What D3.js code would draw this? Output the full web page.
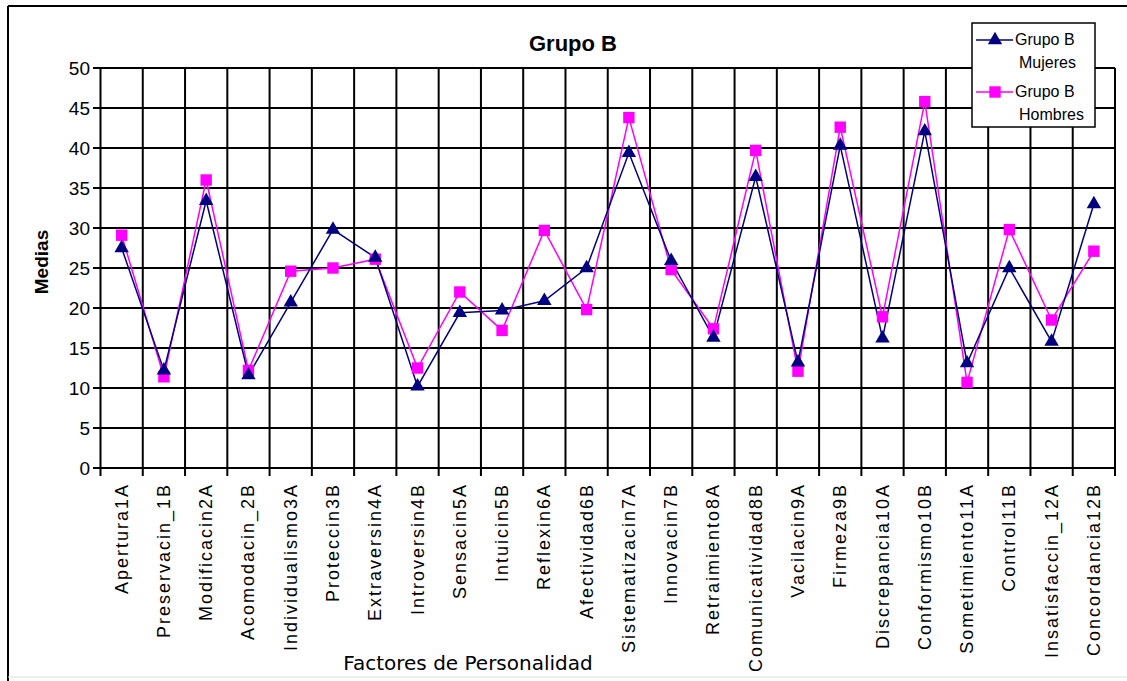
<!DOCTYPE html>
<meta charset="utf-8">
<style>
body { margin: 0; background: #fff; }
text { font-family: "Liberation Sans", Arial, sans-serif; fill: #000; }
.grid line { stroke: #000; stroke-width: 2px; }
</style>
<script src="https://d3js.org/d3.v7.min.js"></script>
<div id="chart"></div>
<script>
// factor labels, as printed in the original (accents lost)
var factores = ["Apertura1A", "Preservacin_1B", "Modificacin2A", "Acomodacin_2B",
  "Individualismo3A", "Proteccin3B", "Extraversin4A", "Introversin4B", "Sensacin5A",
  "Intuicin5B", "Reflexin6A", "Afectividad6B", "Sistematizacin7A", "Innovacin7B",
  "Retraimiento8A", "Comunicatividad8B", "Vacilacin9A", "Firmeza9B", "Discrepancia10A",
  "Conformismo10B", "Sometimiento11A", "Control11B", "Insatisfaccin_12A", "Concordancia12B"];

var mujeres = [27.5, 12.2, 33.4, 11.6, 20.7, 29.8, 26.3, 10.2, 19.4, 19.7, 20.9, 25.0,
  39.4, 25.9, 16.3, 36.4, 13.2, 40.3, 16.2, 42.1, 13.1, 25.0, 15.8, 33.0];
var hombres = [29.1, 11.4, 36.0, 12.2, 24.6, 25.0, 26.1, 12.5, 22.0, 17.2, 29.7, 19.8,
  43.8, 24.8, 17.4, 39.7, 12.1, 42.6, 18.9, 45.8, 10.7, 29.8, 18.5, 27.1];

var yTicks = [0, 5, 10, 15, 20, 25, 30, 35, 40, 45, 50];

var width = 1127, height = 681;
var svg = d3.select("#chart").append("svg")
    .attr("width", width)
    .attr("height", height);

// outer frame
svg.append("line").attr("x1", 8).attr("x2", width).attr("y1", 6).attr("y2", 6)
    .attr("stroke", "#000").attr("stroke-width", 2);
svg.append("line").attr("x1", 8).attr("x2", 8).attr("y1", 6).attr("y2", height)
    .attr("stroke", "#000").attr("stroke-width", 2);
svg.append("line").attr("x1", 8).attr("x2", width).attr("y1", 677).attr("y2", 677)
    .attr("stroke", "#ddd").attr("stroke-width", 1);

var x = d3.scaleBand().domain(factores).range([100.5, 1115]).padding(0);
var y = d3.scaleLinear().domain([0, 50]).range([468, 68]);

// grid
var grid = svg.append("g").attr("class", "grid");
grid.selectAll(".h").data(yTicks).enter().append("line")
    .attr("x1", 93).attr("x2", 1115)
    .attr("y1", d => y(d)).attr("y2", d => y(d));
var bounds = factores.map(d => x(d)).concat([x.range()[1]]);
grid.selectAll(".v").data(bounds).enter().append("line")
    .attr("x1", d => d).attr("x2", d => d)
    .attr("y1", y(50)).attr("y2", 476);

// y tick labels
svg.append("g").selectAll("text").data(yTicks).enter().append("text")
    .attr("x", 90).attr("y", d => y(d) + 7)
    .attr("text-anchor", "end")
    .style("font-size", "19px")
    .text(d => d);

// x tick labels
svg.append("g").selectAll("text").data(factores).enter().append("text")
    .attr("transform", d => "translate(" + (x(d) + x.bandwidth() / 2 + 6) + ",483) rotate(-90)")
    .attr("text-anchor", "end")
    .style("font-size", "18px")
    .style("letter-spacing", "2px")
    .text(d => d);

// titles
svg.append("text").attr("x", 573).attr("y", 51)
    .attr("text-anchor", "middle")
    .style("font-size", "22px").style("font-weight", "bold")
    .text("Grupo B");
svg.append("text").attr("transform", "translate(48,262) rotate(-90)")
    .attr("text-anchor", "middle")
    .style("font-size", "19px").style("font-weight", "bold")
    .text("Medias");
svg.append("text").attr("x", 468).attr("y", 670)
    .attr("text-anchor", "middle")
    .style("font-family", "'DejaVu Sans', sans-serif")
    .style("font-size", "20px")
    .text("Factores de Personalidad");

var cx = (d, i) => x(factores[i]) + x.bandwidth() / 2;
var line = d3.line().x((d, i) => cx(d, i)).y(d => y(d));

var tri = d3.symbol().type(d3.symbolTriangle).size(90);
var sq = d3.symbol().type(d3.symbolSquare).size(130);

svg.append("path").datum(hombres)
    .attr("d", line).attr("fill", "none")
    .attr("stroke", "#ff00ff").attr("stroke-width", 1.5);
svg.append("path").datum(mujeres)
    .attr("d", line).attr("fill", "none")
    .attr("stroke", "#000080").attr("stroke-width", 1.5);

svg.append("g").selectAll("path").data(hombres).enter().append("path")
    .attr("d", sq)
    .attr("transform", (d, i) => "translate(" + cx(d, i) + "," + y(d) + ")")
    .attr("fill", "#ff00ff");
svg.append("g").selectAll("path").data(mujeres).enter().append("path")
    .attr("d", tri)
    .attr("transform", (d, i) => "translate(" + cx(d, i) + "," + y(d) + ")")
    .attr("fill", "#000080");

// legend
var lg = svg.append("g").attr("transform", "translate(972,23)");
lg.append("rect").attr("width", 123).attr("height", 104)
    .attr("fill", "#fff").attr("stroke", "#000").attr("stroke-width", 1.5);
var items = [
  {name: ["Grupo B", "Mujeres"], color: "#000080", sym: tri, y: 17},
  {name: ["Grupo B", "Hombres"], color: "#ff00ff", sym: sq, y: 69}
];
items.forEach(function(it) {
  lg.append("line").attr("x1", 4).attr("x2", 41).attr("y1", it.y).attr("y2", it.y)
      .attr("stroke", it.color).attr("stroke-width", 1.5);
  lg.append("path").attr("d", it.sym).attr("fill", it.color)
      .attr("transform", "translate(23," + it.y + ")");
  lg.append("text").attr("x", 43).attr("y", it.y + 5)
      .style("font-size", "16px").text(it.name[0]);
  lg.append("text").attr("x", 47).attr("y", it.y + 28)
      .style("font-size", "16px").text(it.name[1]);
});
</script>
